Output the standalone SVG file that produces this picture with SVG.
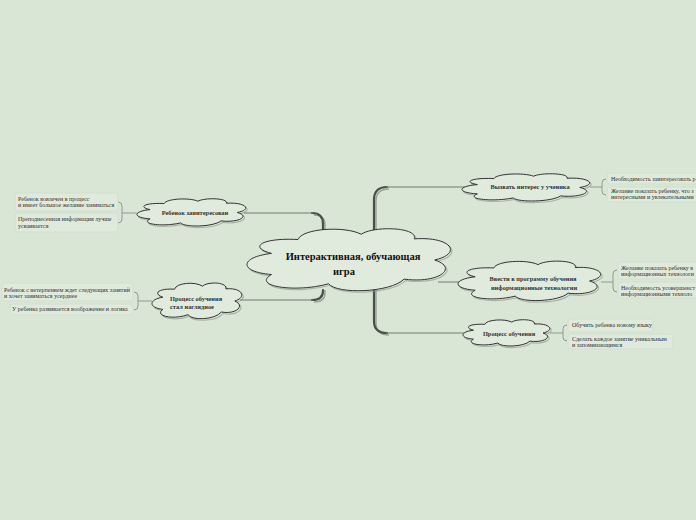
<svg xmlns="http://www.w3.org/2000/svg" xmlns:xlink="http://www.w3.org/1999/xlink" width="696" height="520" viewBox="0 0 696 520">
<style>
.bg{fill:#d9e6d5}
.cloud{fill:#e0eadd;stroke:#333;stroke-width:1}
.cshadow{fill:none;stroke:#8a938a;stroke-width:1.2;opacity:.6}
.trunk{fill:none;stroke:#4a4f4a;stroke-width:2.2;stroke-linecap:round}
.trunks{fill:none;stroke:#9aa59a;stroke-width:1.5}
.thin{fill:none;stroke:#6f7b6f;stroke-width:1}
.br{fill:none;stroke:#7d887d;stroke-width:0.8}
.leaf{fill:#dfe9dc;stroke:#cfdccb;stroke-width:0.7}
.lt{font-family:"Liberation Serif","DejaVu Serif",serif;font-size:6px;fill:#333}
.nt{font-family:"Liberation Serif","DejaVu Serif",serif;font-size:6.4px;font-weight:bold;fill:#333}
.ct{font-family:"Liberation Serif","DejaVu Serif",serif;font-size:10.5px;font-weight:bold;fill:#111}
</style>
<defs>
<path id="cl" d="M 12 40 C 0 30, 8 16, 25 19 C 27 2, 48 -2, 56 11 C 62 -2, 84 0, 82 18 C 100 14, 106 40, 92 50 C 104 62, 94 86, 77 79 C 70 100, 44 102, 40 86 C 24 100, 2 90, 12 72 C -4 68, -4 46, 12 40 Z" vector-effect="non-scaling-stroke"/>
</defs>
<rect class="bg" x="0" y="0" width="696" height="520"/>

<g id="connectors">
  <path class="trunks" d="M 376 234 L 376 201 Q 376 189 389 189"/>
  <path class="trunk" d="M 374 232 L 374 200 Q 374 187 387 187"/>
  <path class="thin" d="M 386 187 L 465 187"/>
  <path class="trunks" d="M 376 290 L 376 323 Q 376 335 389 335"/>
  <path class="trunk" d="M 374 290 L 374 321 Q 374 333 387 333"/>
  <path class="thin" d="M 386 333 L 466 333"/>
  <path class="thin" d="M 438 282 L 461 282"/>
  <path class="trunks" d="M 325 234 L 325 225 Q 325 215 314 215"/>
  <path class="trunk" d="M 323 232 L 323 224 Q 323 213 312 213"/>
  <path class="thin" d="M 313 213 L 244 213"/>
  <path class="trunks" d="M 325 290 L 325 293 Q 325 302 314 302"/>
  <path class="trunk" d="M 323 290 L 323 291 Q 323 300 312 300"/>
  <path class="thin" d="M 313 300 L 240 300"/>
  <path class="br" d="M 137 213 H 122 M 118 202 Q 122 202 122 206 V 219 Q 122 223 118 223"/>
  <path class="br" d="M 152 301 H 138 M 134 292 Q 138 292 138 296 V 306 Q 138 310 134 310"/>
  <path class="br" d="M 590 187 H 602 M 606 179 Q 602 179 602 183 V 191 Q 602 195 606 195"/>
  <path class="br" d="M 601 282 H 613 M 617 270 Q 613 270 613 274 V 288 Q 613 292 617 292"/>
  <path class="br" d="M 550 333 H 563 M 567 325 Q 563 325 563 329 V 337 Q 563 341 567 341"/>
</g>

<g id="center">
  <use href="#cl" class="cshadow" transform="translate(248.5,228.5) scale(2.04,0.66)"/>
  <use href="#cl" class="cloud" transform="translate(247,227) scale(2.04,0.66)"/>
  <text class="ct" x="353" y="260" text-anchor="middle">Интерактивная, обучающая</text>
  <text class="ct" x="344" y="275" text-anchor="middle">игра</text>
</g>

<g id="node-interest">
  <use href="#cl" class="cshadow" transform="translate(463.5,174.5) scale(1.28,0.29)"/>
  <use href="#cl" class="cloud" transform="translate(462,173) scale(1.28,0.29)"/>
  <text class="nt" x="530" y="189" text-anchor="middle">Вызвать интерес у ученика</text>
</g>

<g id="node-it">
  <use href="#cl" class="cshadow" transform="translate(459.5,261.5) scale(1.43,0.42)"/>
  <use href="#cl" class="cloud" transform="translate(458,260) scale(1.43,0.42)"/>
  <text class="nt" x="533" y="281" text-anchor="middle">Ввести в программу обучения</text>
  <text class="nt" x="534" y="290" text-anchor="middle">информационные технологии</text>
</g>

<g id="node-process">
  <use href="#cl" class="cshadow" transform="translate(464.5,320.5) scale(0.87,0.28)"/>
  <use href="#cl" class="cloud" transform="translate(463,319) scale(0.87,0.28)"/>
  <text class="nt" x="509" y="336" text-anchor="middle">Процесс обучения</text>
</g>

<g id="node-interested">
  <use href="#cl" class="cshadow" transform="translate(138.5,199.5) scale(1.09,0.29)"/>
  <use href="#cl" class="cloud" transform="translate(137,198) scale(1.09,0.29)"/>
  <text class="nt" x="195" y="215" text-anchor="middle">Ребенок заинтересован</text>
</g>

<g id="node-visual">
  <use href="#cl" class="cshadow" transform="translate(153.5,283.5) scale(0.9,0.38)"/>
  <use href="#cl" class="cloud" transform="translate(152,282) scale(0.9,0.38)"/>
  <text class="nt" x="170" y="301">Процесс обучения</text>
  <text class="nt" x="170" y="309">стал наглядное</text>
</g>

<g id="leaf-l1">
  <rect class="leaf" x="15" y="193" width="103" height="18" rx="3"/>
  <text class="lt" x="18" y="201">Ребенок вовлечен в процесс</text>
  <text class="lt" x="18" y="207">и имеет большое желание заниматься</text>
</g>
<g id="leaf-l2">
  <rect class="leaf" x="15" y="213" width="103" height="19" rx="3"/>
  <text class="lt" x="18" y="221">Преподнесенная информация лучше</text>
  <text class="lt" x="18" y="228">усваивается</text>
</g>
<g id="leaf-l3">
  <rect class="leaf" x="2" y="283" width="131" height="18" rx="3"/>
  <text class="lt" x="4" y="292">Ребенок с нетерпением ждет следующих занятий</text>
  <text class="lt" x="4" y="298">и  хочет заниматься усерднее</text>
</g>
<g id="leaf-l4">
  <rect class="leaf" x="10" y="304" width="123" height="11" rx="3"/>
  <text class="lt" x="12" y="311">У ребенка развивается воображение и  логика</text>
</g>
<g id="leaf-r1">
  <rect class="leaf" x="607" y="173" width="100" height="11" rx="3"/>
  <text class="lt" x="611" y="181">Необходимость заинтересовать р</text>
</g>
<g id="leaf-r2">
  <rect class="leaf" x="607" y="187" width="100" height="15" rx="3"/>
  <text class="lt" x="611" y="193">Желание показать ребенку, что з</text>
  <text class="lt" x="611" y="199">интересными и увлекательными</text>
</g>
<g id="leaf-r3">
  <rect class="leaf" x="618" y="262" width="90" height="17" rx="3"/>
  <text class="lt" x="621" y="270">Желание показать ребенку в</text>
  <text class="lt" x="621" y="276">информационных технологи</text>
</g>
<g id="leaf-r4">
  <rect class="leaf" x="618" y="282" width="90" height="16" rx="3"/>
  <text class="lt" x="621" y="290">Необходимость усовершенст</text>
  <text class="lt" x="621" y="296">информационными техноло</text>
</g>
<g id="leaf-r5">
  <rect class="leaf" x="568" y="319" width="85" height="13" rx="3"/>
  <text class="lt" x="572" y="327">Обучить ребенка новому языку</text>
</g>
<g id="leaf-r6">
  <rect class="leaf" x="568" y="334" width="105" height="15" rx="3"/>
  <text class="lt" x="572" y="341">Сделать каждое занятие уникальным</text>
  <text class="lt" x="572" y="347">и запоминающимся</text>
</g>
</svg>
